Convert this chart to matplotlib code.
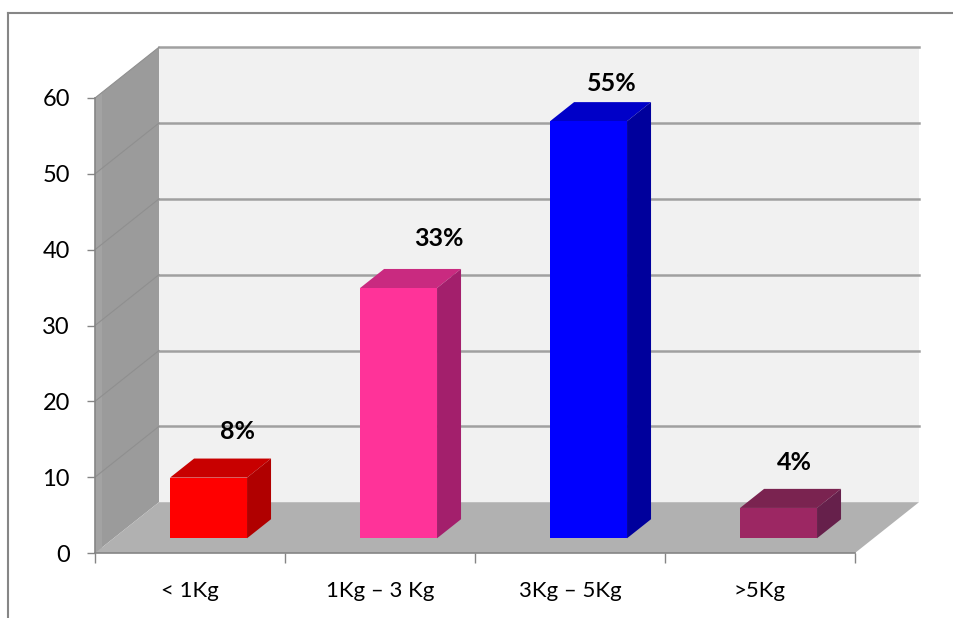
import matplotlib
matplotlib.use("Agg")
import matplotlib.pyplot as plt
from matplotlib.lines import Line2D
from matplotlib.patches import Polygon

plt.rcParams['font.family'] = ['Lato', 'DejaVu Sans']

# chart values
categories = ['< 1Kg', '1Kg – 3 Kg', '3Kg – 5Kg', '>5Kg']
values = [8, 33, 55, 4]
value_labels = ['8%', '33%', '55%', '4%']
y_ticks = [0, 10, 20, 30, 40, 50, 60]

front_colors = ['#ff0000', '#ff3399', '#0000ff', '#9c2763']
top_colors = ['#c80000', '#c92a80', '#0000c8', '#7a2350']
side_colors = ['#b00000', '#a31f6c', '#00009c', '#66204b']

# where each value label sits relative to the bar top, in pixels
label_offsets = [(29, 46), (40, 50), (23, 38), (16, 45)]

W, H = 954, 618
LEFT, RIGHT, BOTTOM, TOP = 95, 855, 553, 98

# fake 3D depth of the plot box, in data units
DEPTH_X = 64 / 190
DEPTH_Y = 6.7
# bars stand part way into the box
BAR_WIDTH = 0.405
BAR_START = 0.29
BAR_DEPTH = 0.375

GRID = '#a0a0a0'
AXIS = '#858585'


def poly(ax, pts, color, z):
    ax.add_patch(Polygon(pts, closed=True, facecolor=color, edgecolor='none',
                         clip_on=False, zorder=z))


def draw_box(ax):
    ymax = y_ticks[-1]
    xmax = len(categories)
    # back wall
    poly(ax, [(DEPTH_X, DEPTH_Y), (xmax + DEPTH_X, DEPTH_Y),
              (xmax + DEPTH_X, ymax + DEPTH_Y), (DEPTH_X, ymax + DEPTH_Y)], '#f1f1f1', 1)
    # left wall with its lighter front strip
    poly(ax, [(0, 0), (DEPTH_X, DEPTH_Y), (DEPTH_X, ymax + DEPTH_Y), (0, ymax)], '#9b9b9b', 2)
    strip = DEPTH_X * 0.11
    poly(ax, [(0, 0), (strip, 0), (strip, ymax + DEPTH_Y * 0.11), (0, ymax)], '#a3a3a3', 2)
    # floor
    poly(ax, [(0, 0), (xmax, 0), (xmax + DEPTH_X, DEPTH_Y), (DEPTH_X, DEPTH_Y)], '#b1b1b1', 2)

    for t in y_ticks[1:]:
        ax.plot([DEPTH_X, xmax + DEPTH_X], [t + DEPTH_Y, t + DEPTH_Y], color=GRID,
                lw=1.8, clip_on=False, zorder=3)
        ax.plot([0, DEPTH_X], [t, t + DEPTH_Y], color='#8f8f8f', lw=0.8,
                clip_on=False, zorder=3)


def draw_bar(ax, i):
    v = values[i]
    x0 = i + 0.5 - BAR_WIDTH / 2 + BAR_START * DEPTH_X
    x1 = x0 + BAR_WIDTH
    y0 = BAR_START * DEPTH_Y
    y1 = y0 + v
    dx = BAR_DEPTH * DEPTH_X
    dy = BAR_DEPTH * DEPTH_Y

    poly(ax, [(x0, y1), (x1, y1), (x1 + dx, y1 + dy), (x0 + dx, y1 + dy)], top_colors[i], 5)
    poly(ax, [(x1, y0), (x1 + dx, y0 + dy), (x1 + dx, y1 + dy), (x1, y1)], side_colors[i], 5)
    poly(ax, [(x0, y0), (x1, y0), (x1, y1), (x0, y1)], front_colors[i], 6)

    ax.annotate(value_labels[i], xy=((x0 + x1) / 2, y1), xycoords='data',
                xytext=label_offsets[i], textcoords='offset pixels',
                ha='center', va='center', fontsize=18, fontweight='bold',
                color='black', zorder=8, annotation_clip=False)


fig = plt.figure(figsize=(W / 100, H / 100), dpi=100, facecolor='white')
ax = fig.add_axes([LEFT / W, 1 - BOTTOM / H, (RIGHT - LEFT) / W, (BOTTOM - TOP) / H])
ax.set_xlim(0, len(categories))
ax.set_ylim(y_ticks[0], y_ticks[-1])
ax.patch.set_visible(False)

draw_box(ax)
for i in range(len(values)):
    draw_bar(ax, i)

# axes and ticks
for s in ['top', 'right']:
    ax.spines[s].set_visible(False)
for s in ['left', 'bottom']:
    ax.spines[s].set_color(AXIS)
    ax.spines[s].set_linewidth(1.2)
    ax.spines[s].set_zorder(4)

ax.set_yticks(y_ticks)
ax.tick_params(axis='y', length=6, width=1, color=AXIS, pad=12, labelsize=17, labelcolor='black')

ax.set_xticks(range(len(categories) + 1))
ax.set_xticklabels([])
ax.set_xticks([i + 0.5 for i in range(len(categories))], labels=categories, minor=True)
ax.tick_params(axis='x', which='major', length=7, width=1, color=AXIS)
ax.tick_params(axis='x', which='minor', length=0, pad=20, labelsize=16, labelcolor='black')

# outer chart border, only top and left show
fig.add_artist(Line2D([8.5 / W, 8.5 / W], [0, 1 - 13 / H], color='#868686', lw=1.5))
fig.add_artist(Line2D([8.5 / W, 1], [1 - 13 / H, 1 - 13 / H], color='#868686', lw=1.5))

fig.savefig('out.png', dpi=100)
